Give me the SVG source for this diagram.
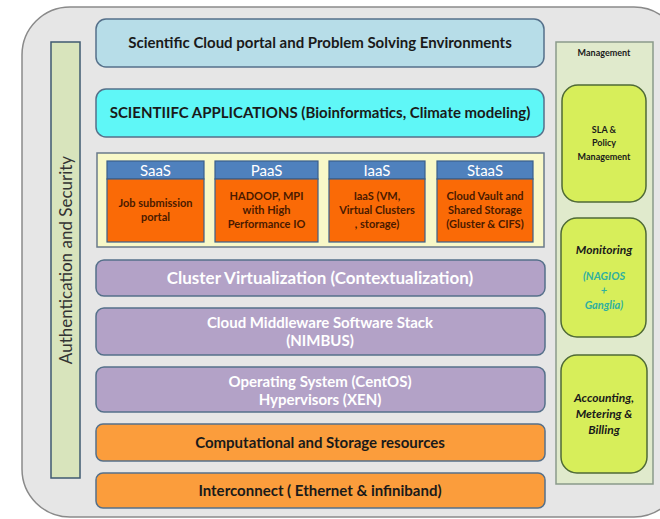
<svg xmlns="http://www.w3.org/2000/svg" width="660" height="519" viewBox="0 0 660 519">
  <style>
    text { font-family: Lato, "Liberation Sans", sans-serif; text-anchor: middle; }
    .layer { stroke: #55708a; stroke-width: 1.5; }
    .dark { fill: #1a1a1a; font-weight: bold; }
    .white { fill: #ffffff; font-weight: bold; }
    .hdr { fill: #4f81bd; stroke: #3b5f8a; stroke-width: 1.2; }
    .body { fill: #fa6a06; stroke: #3b5f8a; stroke-width: 1.2; }
    .svc { fill: #4a1a00; font-weight: bold; font-size: 11px; }
    .hdrtxt { fill: #ffffff; font-size: 15px; }
    .mgmt { fill: #d7ee5a; stroke: #4f6a36; stroke-width: 1.5; }
    .mtxt { fill: #1a1a1a; font-weight: bold; font-style: italic; font-size: 12px; }
    .teal { fill: #2fb0a0; font-size: 11px; }
  </style>

  <!-- outer frame -->
  <rect id="frame" x="22" y="7" width="660" height="510" rx="48" ry="48" fill="#e6e6e6" stroke="#8a8a8a" stroke-width="1.5"/>

  <g id="auth">
    <rect x="51" y="42" width="29" height="436" fill="#d8e4bc" stroke="#3f5a70" stroke-width="1.5"/>
    <text x="0" y="0" transform="translate(72,260) rotate(-90)" font-size="17" fill="#333">Authentication and Security</text>
  </g>

  <g id="portal">
    <rect class="layer" x="96" y="19" width="448" height="48" rx="10" fill="#b7dde8"/>
    <text class="dark" x="320" y="48" font-size="15">Scientific Cloud portal and Problem Solving Environments</text>
  </g>

  <g id="applications">
    <rect class="layer" x="96" y="89" width="448" height="48" rx="10" fill="#5ff7f7"/>
    <text class="dark" x="320" y="118" font-size="15">SCIENTIIFC APPLICATIONS  (Bioinformatics, Climate modeling)</text>
  </g>

  <g id="services">
    <rect x="97" y="153" width="447" height="94" fill="#f8f8c8" stroke="#6a7a8a" stroke-width="1.5"/>
  </g>

  <g id="saas">
    <rect class="hdr" x="107" y="161" width="97" height="18"/>
    <rect class="body" x="107" y="179" width="97" height="63"/>
    <text class="hdrtxt" x="155.5" y="175.5">SaaS</text>
    <text class="svc" x="155.5" y="207">Job submission</text>
    <text class="svc" x="155.5" y="221">portal</text>
  </g>

  <g id="paas">
    <rect class="hdr" x="215" y="161" width="103" height="18"/>
    <rect class="body" x="215" y="179" width="103" height="63"/>
    <text class="hdrtxt" x="266.5" y="175.5">PaaS</text>
    <text class="svc" x="266.5" y="200">HADOOP, MPI</text>
    <text class="svc" x="266.5" y="214">with High</text>
    <text class="svc" x="266.5" y="228">Performance IO</text>
  </g>

  <g id="iaas">
    <rect class="hdr" x="329" y="161" width="96" height="18"/>
    <rect class="body" x="329" y="179" width="96" height="63"/>
    <text class="hdrtxt" x="377" y="175.5">IaaS</text>
    <text class="svc" x="377" y="200">IaaS (VM,</text>
    <text class="svc" x="377" y="214">Virtual Clusters</text>
    <text class="svc" x="377" y="228">, storage)</text>
  </g>

  <g id="staas">
    <rect class="hdr" x="437" y="161" width="96" height="18"/>
    <rect class="body" x="437" y="179" width="96" height="63"/>
    <text class="hdrtxt" x="485" y="175.5">StaaS</text>
    <text class="svc" x="485" y="200">Cloud Vault and</text>
    <text class="svc" x="485" y="214">Shared Storage</text>
    <text class="svc" x="485" y="228">(Gluster &amp; CIFS)</text>
  </g>

  <g id="cluster">
    <rect class="layer" x="96" y="260" width="449" height="36" rx="8" fill="#b3a2c7"/>
    <text class="white" x="320" y="284" font-size="17">Cluster Virtualization (Contextualization)</text>
  </g>

  <g id="middleware">
    <rect class="layer" x="96" y="308" width="449" height="47" rx="8" fill="#b3a2c7"/>
    <text class="white" x="320" y="328" font-size="15">Cloud Middleware Software Stack</text>
    <text class="white" x="320" y="346" font-size="15">(NIMBUS)</text>
  </g>

  <g id="os">
    <rect class="layer" x="96" y="367" width="449" height="45" rx="8" fill="#b3a2c7"/>
    <text class="white" x="320" y="387" font-size="15">Operating System (CentOS)</text>
    <text class="white" x="320" y="405" font-size="15">Hypervisors (XEN)</text>
  </g>

  <g id="resources">
    <rect class="layer" x="96" y="424" width="449" height="37" rx="7" fill="#fb9d3c"/>
    <text class="dark" x="320" y="448" font-size="15">Computational and Storage resources</text>
  </g>

  <g id="interconnect">
    <rect class="layer" x="96" y="473" width="449" height="35" rx="7" fill="#fb9d3c"/>
    <text class="dark" x="320" y="496" font-size="15">Interconnect ( Ethernet &amp; infiniband)</text>
  </g>

  <g id="management">
    <rect x="556" y="42" width="97" height="442" fill="#e0eacc" stroke="#8a9a8a" stroke-width="1.5"/>
    <text class="dark" x="604" y="56" font-size="9">Management</text>
  </g>

  <g id="sla">
    <rect class="mgmt" x="562" y="85" width="84" height="117" rx="16"/>
    <text class="dark" x="604" y="133" font-size="9">SLA &amp;</text>
    <text class="dark" x="604" y="146" font-size="9">Policy</text>
    <text class="dark" x="604" y="160" font-size="9">Management</text>
  </g>

  <g id="monitoring">
    <rect class="mgmt" x="561" y="218" width="85" height="119" rx="16"/>
    <text class="mtxt" x="604" y="254">Monitoring</text>
    <text class="mtxt teal" x="604" y="280">(NAGIOS</text>
    <text class="mtxt teal" x="604" y="294">+</text>
    <text class="mtxt teal" x="604" y="309">Ganglia)</text>
  </g>

  <g id="accounting">
    <rect class="mgmt" x="561" y="355" width="86" height="118" rx="16"/>
    <text class="mtxt" x="604" y="402">Accounting,</text>
    <text class="mtxt" x="604" y="418">Metering &amp;</text>
    <text class="mtxt" x="604" y="434">Billing</text>
  </g>

  <!-- no connectors in this layered stack -->
  <g id="connectors"/>
</svg>
